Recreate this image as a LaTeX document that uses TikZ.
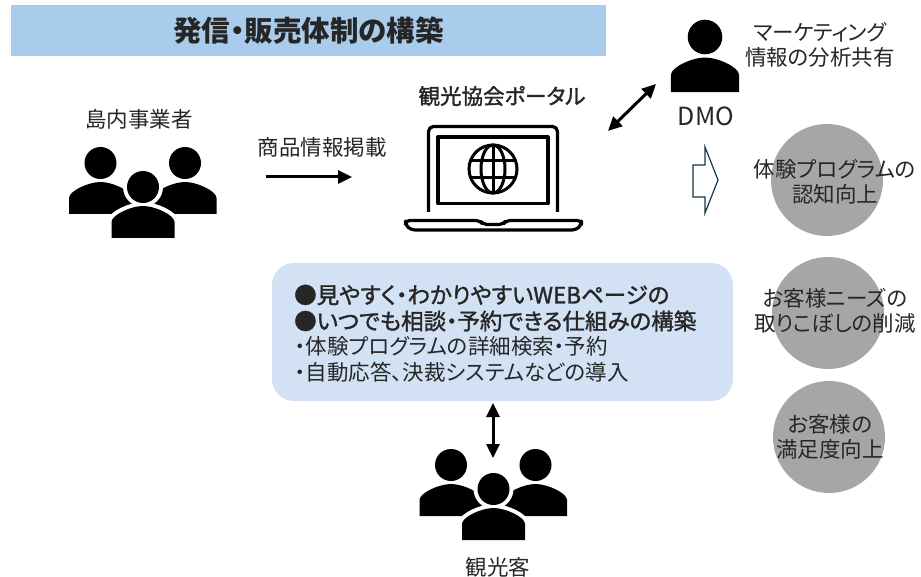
\documentclass[tikz,border=0pt]{standalone}
\usepackage{fontspec}
\setmainfont[RawFeature=+palt]{Noto Sans CJK JP}
\newfontfamily\semibold[RawFeature=+palt, FakeBold=1.5]{Noto Sans CJK JP}
\usepackage{xcolor}
\usetikzlibrary{arrows.meta}
\definecolor{bandblue}{HTML}{A9CBEC}
\definecolor{boxblue}{HTML}{D2E2F4}
\definecolor{circlegray}{HTML}{A6A6A6}
\definecolor{outlineteal}{HTML}{17374A}
\tikzset{
  figfont/.style={font=\fontsize{21.5}{25}\selectfont, text=black!85},
  figlabel/.style={align=center, inner sep=0pt},
  figstrong/.style={figlabel, font=\fontsize{21.5}{25}\selectfont\semibold},
  figband/.style={fill=bandblue, minimum width=595pt, minimum height=51pt, inner sep=0pt,
    font=\fontsize{28.5}{30}\selectfont\bfseries},
  figpanel/.style={fill=boxblue, rounded corners=22pt, minimum width=461pt, minimum height=138pt, inner sep=0pt},
  figgoal/.style={circle, fill=circlegray, minimum size=112pt, inner sep=0pt},
  figarrow/.style={-{Stealth[length=14pt,width=13pt,inset=0pt]}, line width=3pt},
  figarrowboth/.style={{Stealth[length=14pt,width=13pt,inset=0pt]}-{Stealth[length=14pt,width=13pt,inset=0pt]}, line width=3pt},
  figlaptop/.style={line width=3.2pt, line join=round},
  figglobe/.style={line width=3pt},
  personicon/.pic={
    \path[fill=black, pic actions] (0,0) circle (16);
    \path[fill=black, pic actions] (-31.5,51) -- (-31.5,35)
      .. controls (-31.5,28) and (-12,19) .. (0,19)
      .. controls (12,19) and (31.5,28) .. (31.5,35) -- (31.5,51) -- cycle;
  },
  peopleicon/.pic={
    \pic at (-42.5,-24) {personicon};
    \pic at (42,-24) {personicon};
    \pic[fill=white, draw=white, line width=8pt] at (0,0) {personicon};
    \pic at (0,0) {personicon};
  },
}

\begin{document}
\begin{tikzpicture}[x=1pt, y=-1pt, figfont]
  \useasboundingbox[fill=white] (0,0) rectangle (921,577);

  % Title band
  \node[figband] (band) at (308.5,30.5) {発信・販売体制の構築};

  % Actors
  \node[figlabel] (operators) at (139,119) {島内事業者};
  \pic at (143,187) {peopleicon};
  \node[figlabel] (visitors) at (498,567) {観光客};
  \pic at (493.5,489) {peopleicon};
  \pic[scale=1.08] at (705,37) {personicon};
  \node[figlabel, font=\fontsize{25}{28}\selectfont] (dmo) at (706,116) {DMO};
  \node[figlabel] (sharing) at (820,45) {マーケティング\\情報の分析共有};

  % Portal laptop
  \node[figstrong] (portal) at (502,96) {観光協会ポータル};
  \draw[figlaptop, rounded corners=5pt] (428.5,212) -- (428.5,126.5) -- (557.5,126.5) -- (557.5,212);
  \draw[figlaptop] (438,137) rectangle (548,203.5);
  \draw[figlaptop, rounded corners=4pt] (405.5,220.5) -- (480,220.5) -- (483,224.5) -- (503,224.5)
    -- (506,220.5) -- (581.5,220.5) -- (581.5,225) -- (576,230) -- (411,230) -- (405.5,225) -- cycle;
  \draw[figglobe] (493,169) circle (24);
  \draw[figglobe] (493,169) ellipse (12 and 24);
  \draw[figglobe] (493,145) -- (493,193);
  \draw[figglobe] (470,160.5) -- (516,160.5);
  \draw[figglobe] (470,177.5) -- (516,177.5);

  % Listing arrow
  \node[figlabel] (listing) at (322,147) {商品情報掲載};
  \coordinate (listingstart) at (266,177);
  \coordinate (listingend) at (352,177);
  \draw[figarrow] (listingstart) -- (listingend);

  % Portal to DMO
  \coordinate (dmostart) at (608,131);
  \coordinate (dmoend) at (656,84);
  \draw[figarrowboth] (dmostart) -- (dmoend);

  % Outline arrow towards the results
  \draw[outlineteal, line width=1.2pt, line join=miter] (693,165) -- (705,165) -- (705,147)
    -- (718,180) -- (705,213) -- (705,197) -- (693,197) -- cycle;

  % Results
  \node[figgoal] (goalone) at (827,180) {};
  \node[figlabel] (goalonetext) at (835,182) {体験プログラムの\\認知向上};
  \node[figgoal] (goaltwo) at (828,313) {};
  \node[figlabel] (goaltwotext) at (835,311) {お客様ニーズの\\取りこぼしの削減};
  \node[figgoal] (goalthree) at (829,437) {};
  \node[figlabel] (goalthreetext) at (830,437) {お客様の\\満足度向上};

  % Centre panel
  \node[figpanel] (panel) at (502.5,332) {};
  \node[figstrong, anchor=west, font=\fontsize{22.5}{26}\selectfont\semibold] (lineone) at (294,295) {●見やすく・わかりやすいWEBページの};
  \node[figstrong, anchor=west, font=\fontsize{22.5}{26}\selectfont\semibold] (linetwo) at (294,321) {●いつでも相談・予約できる仕組みの構築};
  \node[figlabel, anchor=west] (linethree) at (295,346) {・体験プログラムの詳細検索・予約};
  \node[figlabel, anchor=west] (linefour) at (295,372) {・自動応答、決裁システムなどの導入};

  % Panel to visitors
  \coordinate (visitorstart) at (493,403);
  \coordinate (visitorend) at (493,458);
  \draw[figarrowboth] (visitorstart) -- (visitorend);
\end{tikzpicture}
\end{document}
